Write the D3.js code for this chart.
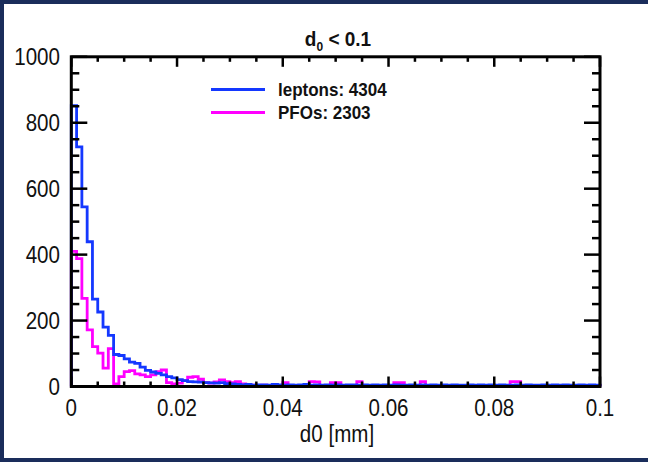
<!DOCTYPE html>
<html><head><meta charset="utf-8">
<script src="https://cdn.jsdelivr.net/npm/d3@7"></script>
<style>body{margin:0;background:#fff}svg{display:block}</style>
</head><body>
<svg id="c" width="648" height="462"></svg>
<script>
// ---- data ----
const binWidth = 0.001;
const leptons = [852,727,545,439,265,226,180,155,97,94,
  84,74,70,59,49,44,40,35,30,26,
  21,18,15,14,13,12,11,10,12,9,
  8,6,5,6,4,5,5,4,6,5,
  4,5,4,5,6,4,5,4,5,4,
  5,4,5,5,4,5,4,5,4,5,
  4,5,4,4,5,4,5,4,5,4,
  5,4,5,4,4,5,4,5,4,5,
  4,5,4,4,5,4,5,4,4,5,
  4,5,4,5,4,4,5,4,5,4];
const pfos = [410,388,267,172,121,101,56,115,8,30,
  45,48,38,35,30,35,45,50,12,8,
  10,18,28,30,22,12,10,14,20,15,
  12,15,8,5,4,3,4,3,2,3,
  12,3,2,3,2,15,14,3,2,12,
  12,3,2,3,15,2,3,2,3,2,
  3,12,12,3,2,3,15,3,2,3,
  2,3,2,3,2,3,2,3,2,3,
  2,3,2,15,15,3,2,3,2,3,
  2,3,2,3,2,3,2,3,2,3];
const seriesNames = ["leptons: 4304","PFOs: 2303"];
const xTicks = [0,0.02,0.04,0.06,0.08,0.1];
const xTickLabels = ["0","0.02","0.04","0.06","0.08","0.1"];
const yTicks = [0,200,400,600,800,1000];
const titleMain = "d", titleSub = "0", titleRest = " < 0.1";
const xTitle = "d0 [mm]";

// ---- layout ----
const W = 648, H = 462;
const L = 71.3, R = 600, T = 56.8, B = 386.5;
const cBlue = "#1438ff", cMag = "#ff00ff", navy = "#1a2d5b";
const svg = d3.select("#c");
svg.append("rect").attr("width",W).attr("height",H).attr("fill",navy);
svg.append("rect").attr("x",4).attr("y",4).attr("width",W-4).attr("height",H-8).attr("fill","#fff");

const x = d3.scaleLinear().domain([0,0.1]).range([L,R]);
const y = d3.scaleLinear().domain([0,1000]).range([B,T]);

function stepLine(vals){
  const pts = [];
  pts.push([x(0), y(0)]);
  vals.forEach((v,i)=>{ pts.push([x(i*binWidth), y(v)]); pts.push([x((i+1)*binWidth), y(v)]); });
  pts.push([x(vals.length*binWidth), y(0)]);
  return d3.line()(pts);
}
const g = svg.append("g");
g.append("path").attr("d",stepLine(pfos)).attr("fill","none").attr("stroke",cMag).attr("stroke-width",2.8).attr("stroke-linejoin","miter");
g.append("path").attr("d",stepLine(leptons)).attr("fill","none").attr("stroke",cBlue).attr("stroke-width",2.8).attr("stroke-linejoin","miter");

// ticks
const ax = svg.append("g").attr("stroke","#000");
const yMinor = d3.range(0,1001,50);
const xMinor = d3.range(0,101,5).map(d=>d/1000);
const yMajLen = 16, yMinLen = 8, xMajLen = 10, xMinLen = 5;
yMinor.forEach(v=>{
  const maj = v%200===0; const len = maj?yMajLen:yMinLen;
  ax.append("line").attr("x1",L).attr("x2",L+len).attr("y1",y(v)).attr("y2",y(v)).attr("stroke-width",2.5);
  ax.append("line").attr("x1",R).attr("x2",R-len).attr("y1",y(v)).attr("y2",y(v)).attr("stroke-width",2.5);
});
xMinor.forEach(v=>{
  const maj = Math.round(v*1000)%20===0; const len = maj?xMajLen:xMinLen;
  ax.append("line").attr("x1",x(v)).attr("x2",x(v)).attr("y1",B).attr("y2",B-len).attr("stroke-width",2.5);
  ax.append("line").attr("x1",x(v)).attr("x2",x(v)).attr("y1",T).attr("y2",T+len).attr("stroke-width",2.5);
});
svg.append("rect").attr("x",L).attr("y",T).attr("width",R-L).attr("height",B-T)
  .attr("fill","none").attr("stroke","#000").attr("stroke-width",3);

// tick labels (slightly tall glyphs as in the original)
const font = "Liberation Sans, Arial, Helvetica, sans-serif";
function tallText(sel, px, py, anchor, size, txt, bold){
  return sel.append("text").attr("transform",`translate(${px},${py}) scale(0.98,1.12)`)
    .attr("text-anchor",anchor).attr("font-family",font).attr("font-size",size)
    .attr("font-weight",bold?"bold":"normal").attr("fill","#111").text(txt);
}
const yl = svg.append("g");
yTicks.forEach(d=>tallText(yl, 60, y(d)+8.3, "end", 21, d));
const xl = svg.append("g");
xTicks.forEach((d,i)=>tallText(xl, x(d), 416, "middle", 21, xTickLabels[i]));
tallText(svg, 337, 442, "middle", 21, xTitle);

// title
const t = svg.append("text").attr("transform","translate(338,46) scale(1,1.08)").attr("text-anchor","middle")
  .attr("font-family",font).attr("font-weight","bold").attr("font-size",19).attr("fill","#111");
t.append("tspan").text(titleMain);
t.append("tspan").attr("font-size",12).attr("dy",5).text(titleSub);
t.append("tspan").attr("dy",-5).text(titleRest);

// legend
const leg = svg.append("g");
[cBlue,cMag].forEach((c,i)=>{
  const yy = 89.5 + i*23;
  leg.append("line").attr("x1",211).attr("x2",265).attr("y1",yy).attr("y2",yy).attr("stroke",c).attr("stroke-width",3);
  leg.append("text").attr("transform",`translate(278,${yy+6}) scale(1,1.08)`).attr("font-family",font)
    .attr("font-weight","bold").attr("font-size",17).attr("fill","#111").text(seriesNames[i]);
});
</script>
</body></html>
